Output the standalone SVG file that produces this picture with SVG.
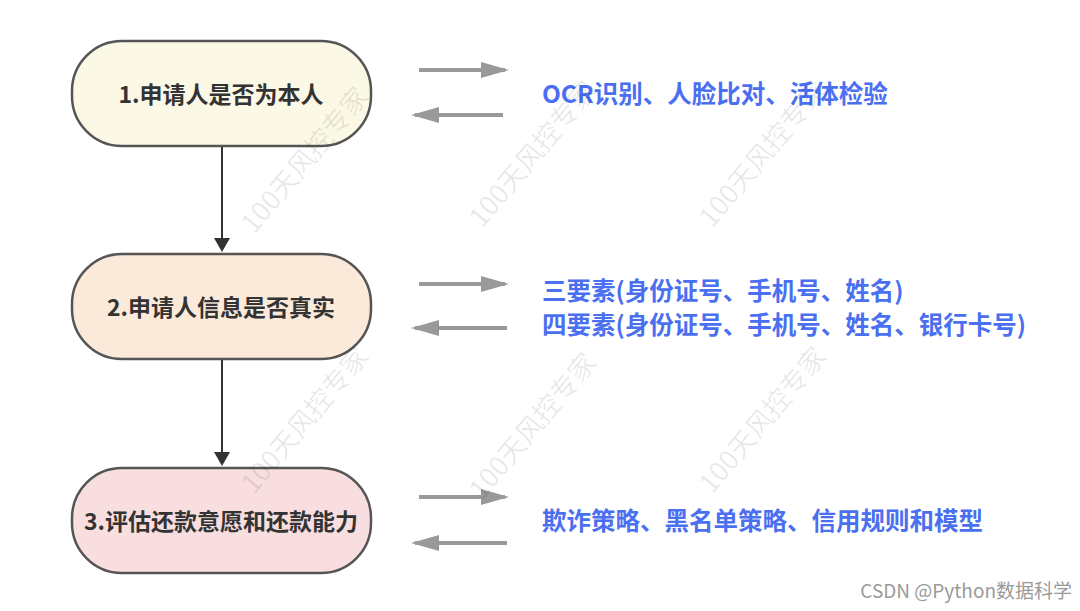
<svg xmlns="http://www.w3.org/2000/svg" width="1080" height="611" viewBox="0 0 1080 611">
<style>
.n{stroke:#555;stroke-width:2.5}
.nt{font-family:"Noto Sans CJK SC",sans-serif;font-weight:bold;font-size:23px;fill:#333;text-anchor:middle}
.bt{font-family:"Noto Sans CJK SC",sans-serif;font-weight:bold;font-size:24.5px;fill:#4a6ff0}
.g{stroke:#999;stroke-width:4;fill:none}
.d{stroke:#333;stroke-width:2;fill:none}
.wm{font-family:"Noto Sans CJK SC",sans-serif;font-size:27px;fill:#000;fill-opacity:0.09;text-anchor:middle}
</style>
<defs>
<marker id="ga" markerWidth="7" markerHeight="4" refX="6" refY="2" orient="auto" markerUnits="strokeWidth"><path d="M0,0L7,2L0,4z" fill="#999"/></marker>
<marker id="da" markerWidth="7" markerHeight="8" refX="6" refY="4" orient="auto" markerUnits="strokeWidth"><path d="M0,0L7,4L0,8z" fill="#333"/></marker>
</defs>
<rect width="1080" height="611" fill="#fff"/>
<g id="n1"><rect class="n" x="72" y="41" width="299" height="105" rx="50" fill="#fcf8e6"/><text class="nt" x="221" y="103">1.申请人是否为本人</text></g>
<g id="n2"><rect class="n" x="72" y="254" width="299" height="105" rx="50" fill="#fbe9d9"/><text class="nt" x="221" y="316">2.申请人信息是否真实</text></g>
<g id="n3"><rect class="n" x="72" y="468" width="299" height="105" rx="50" fill="#f9dedf"/><text class="nt" x="221" y="530">3.评估还款意愿和还款能力</text></g>
<g id="connectors">
<line class="d" x1="222" y1="147" x2="222" y2="250" marker-end="url(#da)"/>
<line class="d" x1="222" y1="360" x2="222" y2="464" marker-end="url(#da)"/>
<line class="g" x1="419" y1="70" x2="505" y2="70" marker-end="url(#ga)"/>
<line class="g" x1="503" y1="115" x2="415" y2="115" marker-end="url(#ga)"/>
<line class="g" x1="419" y1="284" x2="505" y2="284" marker-end="url(#ga)"/>
<line class="g" x1="507" y1="328" x2="415" y2="328" marker-end="url(#ga)"/>
<line class="g" x1="419" y1="497" x2="505" y2="497" marker-end="url(#ga)"/>
<line class="g" x1="507" y1="543" x2="415" y2="543" marker-end="url(#ga)"/>
</g>
<text class="bt" x="542" y="103">OCR识别、人脸比对、活体检验</text>
<text class="bt" x="542" y="300">三要素(身份证号、手机号、姓名)</text>
<text class="bt" x="542" y="334">四要素(身份证号、手机号、姓名、银行卡号)</text>
<text class="bt" x="542" y="530">欺诈策略、黑名单策略、信用规则和模型</text>
<g>
<text class="wm" transform="translate(312,166) rotate(-50)">100天风控专家</text>
<text class="wm" transform="translate(540,160) rotate(-50)">100天风控专家</text>
<text class="wm" transform="translate(770,160) rotate(-50)">100天风控专家</text>
<text class="wm" transform="translate(312,426) rotate(-50)">100天风控专家</text>
<text class="wm" transform="translate(540,432) rotate(-50)">100天风控专家</text>
<text class="wm" transform="translate(770,426) rotate(-50)">100天风控专家</text>
</g>
<text x="1072" y="598" text-anchor="end" font-family="Noto Sans CJK SC,sans-serif" font-size="19" fill="#9a9a9a">CSDN @Python数据科学</text>
</svg>
